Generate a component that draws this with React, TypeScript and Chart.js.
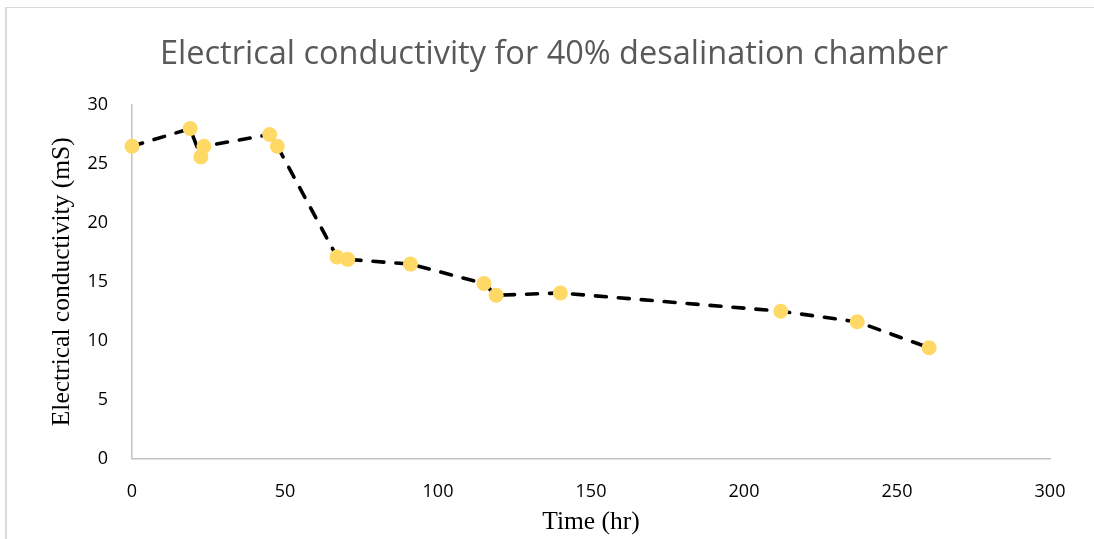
import React, { useEffect, useRef } from "react";
import { Chart, registerables } from "chart.js";

Chart.register(...registerables);

// Sampling times (hr) and measured electrical conductivity (mS)
const timeHr = [0, 19, 22.5, 23.5, 45, 47.5, 67, 70.5, 91, 115, 119, 140, 212, 237, 260.5];
const conductivity = [26.5, 28, 25.6, 26.5, 27.5, 26.5, 17.1, 16.9, 16.5, 14.85, 13.85, 14.05, 12.5, 11.6, 9.4];

const xTicks = [0, 50, 100, 150, 200, 250, 300];
const yTicks = [0, 5, 10, 15, 20, 25, 30];

const titleText = "Electrical conductivity for 40% desalination chamber";
const xTitle = "Time (hr)";
const yTitle = "Electrical conductivity (mS)";

export default function App() {
  const canvasRef = useRef<HTMLCanvasElement | null>(null);

  useEffect(() => {
    const canvas = canvasRef.current;
    if (!canvas) return;
    const points = timeHr.map((t, i) => ({ x: t, y: conductivity[i] }));
    const chart = new Chart(canvas, {
      type: "scatter",
      data: {
        datasets: [
          {
            data: points,
            showLine: true,
            borderColor: "#000000",
            borderWidth: 3.6,
            borderDash: [11, 12],
            borderCapStyle: "round",
            pointRadius: 7.5,
            pointHoverRadius: 7.5,
            pointBackgroundColor: "#FFD966",
            pointBorderWidth: 0,
            clip: false,
          } as any,
        ],
      },
      options: {
        responsive: false,
        animation: false,
        layout: { padding: { left: 58, right: 44, top: 0, bottom: 0 } },
        plugins: {
          legend: { display: false },
          tooltip: { enabled: false },
          title: {
            display: true,
            text: titleText,
            color: "#595959",
            font: { family: "'Open Sans', sans-serif", size: 32.5, weight: "normal" },
            padding: { top: 35, bottom: 31 },
          },
        },
        scales: {
          x: {
            type: "linear",
            min: 0,
            max: 300,
            afterBuildTicks: (s: any) => {
              s.ticks = xTicks.map((v) => ({ value: v }));
            },
            afterFit: (s: any) => {
              s.height = 80.5;
            },
            grid: { display: false, drawTicks: false },
            border: { display: true, color: "#c4c4c4", width: 1.5 },
            ticks: {
              color: "#000000",
              padding: 23,
              font: { family: "'Open Sans', sans-serif", size: 18 },
              maxRotation: 0,
            },
            title: {
              display: true,
              text: xTitle,
              color: "#000000",
              font: { family: "'Liberation Serif', serif", size: 25.5 },
              padding: { top: 0, bottom: 1 },
            },
          },
          y: {
            type: "linear",
            min: 0,
            max: 30,
            afterBuildTicks: (s: any) => {
              s.ticks = yTicks.map((v) => ({ value: v }));
            },
            afterFit: (s: any) => {
              s.width = 74;
            },
            grid: { display: false, drawTicks: false },
            border: { display: true, color: "#c4c4c4", width: 1.5 },
            ticks: {
              color: "#000000",
              padding: 24,
              font: { family: "'Open Sans', sans-serif", size: 18 },
            },
            title: {
              display: true,
              text: yTitle,
              color: "#000000",
              font: { family: "'Liberation Serif', serif", size: 25.5 },
              padding: { top: -11, bottom: 0 },
            },
          },
        },
      },
    });
    return () => chart.destroy();
  }, []);

  return (
    <div style={{ position: "absolute", left: 0, top: 0, width: 1094, height: 539, background: "#ffffff", overflow: "hidden" }}>
      <div
        style={{
          position: "absolute",
          left: 5,
          top: 7,
          width: 1200,
          height: 600,
          borderLeft: "2px solid #d9d9d9",
          borderTop: "1px solid #d9d9d9",
        }}
      />
      <canvas ref={canvasRef} width={1094} height={539} style={{ position: "absolute", left: 0, top: 0 }} />
    </div>
  );
}
